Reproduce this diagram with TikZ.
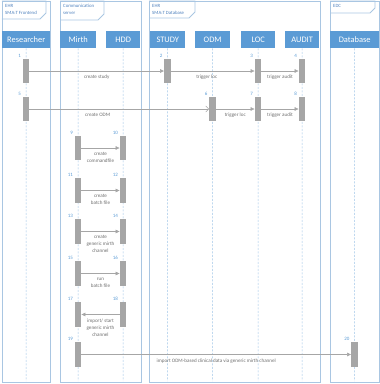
\documentclass[tikz,border=0pt]{standalone}
\usepackage{fontspec}
\setmainfont{Carlito}
\usetikzlibrary{arrows.meta}
\definecolor{hdr}{HTML}{5B9BD5}
\definecolor{frm}{HTML}{A9C6E2}
\definecolor{lif}{HTML}{9DC3E6}
\definecolor{barc}{HTML}{A6A6A6}
\definecolor{msgc}{HTML}{A6A6A6}
\definecolor{numc}{HTML}{5B9BD5}
\definecolor{txtc}{HTML}{6F6F6F}
\definecolor{tabc}{HTML}{4F81BD}
\tikzset{
  frame/.style={draw=frm, line width=0.8pt},
  tabtxt/.style={text=tabc, font=\fontsize{4.8}{6.8}\selectfont, align=left, anchor=north west, inner sep=0pt},
  hdrbox/.style={fill=hdr, text=white, font=\fontsize{8.4}{9}\selectfont, inner sep=0pt, minimum height=17pt, anchor=north west},
  life/.style={draw=lif, dashed, dash pattern=on 2pt off 1.5pt, line width=0.5pt},
  actbar/.style={fill=barc, draw=none, minimum width=6.5pt, minimum height=24.5pt, inner sep=0pt},
  num/.style={text=numc, font=\fontsize{5}{5}\selectfont, anchor=south east, inner sep=0pt, xshift=-1.5pt, yshift=1pt},
  msg/.style={draw=msgc, line width=0.5pt, -{Triangle[length=4pt,width=3.6pt]}},
  msgopen/.style={draw=msgc, line width=0.5pt, -{Straight Barb[length=3pt,width=6pt]}},
  msglab/.style={text=txtc, font=\fontsize{5.1}{7}\selectfont, align=center, below=3.8pt, inner sep=0pt}
}
\begin{document}
\begin{tikzpicture}[x=1pt,y={(0pt,-1pt)}]
\useasboundingbox (0,0) rectangle (380,384);
% frames
\draw[frame] (2,1) rectangle (50,382);
\draw[frame] (60,1) rectangle (141,382);
\draw[frame] (149,1) rectangle (320,382);
\draw[frame] (330,1) rectangle (379,382);
% tabs
\draw[frame] (2,1) -- (46,1) -- (46,13) -- (40,19) -- (2,19);
\draw[frame] (60,1) -- (104,1) -- (104,14) -- (98,20) -- (60,20);
\draw[frame] (149,1) -- (195,1) -- (195,12) -- (189,18) -- (149,18);
\draw[frame] (330,1) -- (375,1) -- (375,8) -- (370,13) -- (330,13);
\node[tabtxt] (t1) at (5,4) {EHR\\SMA:T Frontend};
\node[tabtxt] (t2) at (63,4) {Communication\\server};
\node[tabtxt] (t3) at (152,4) {EHR\\SMA:T Database};
\node[tabtxt] (t4) at (333,4) {EDC};
% headers
\node[hdrbox, minimum width=48pt] (res) at (2,31) {Researcher};
\node[hdrbox, minimum width=36pt] (mir) at (60,31) {Mirth};
\node[hdrbox, minimum width=34pt] (hdd) at (106,31) {HDD};
\node[hdrbox, minimum width=35pt] (stu) at (150,31) {STUDY};
\node[hdrbox, minimum width=35pt] (odm) at (195,31) {ODM};
\node[hdrbox, minimum width=34pt] (loc) at (241,31) {LOC};
\node[hdrbox, minimum width=34pt] (aud) at (285,31) {AUDIT};
\node[hdrbox, minimum width=49pt] (dbs) at (330,31) {Database};
% lifeline ends
\coordinate (eres) at (26,381);
\coordinate (emir) at (78,381);
\coordinate (ehdd) at (123,381);
\coordinate (estu) at (167.5,381);
\coordinate (eodm) at (212.5,381);
\coordinate (eloc) at (258,381);
\coordinate (eaud) at (302,381);
\coordinate (edbs) at (354.5,381);
\draw[life] (res.south) -- (eres);
\draw[life] (mir.south) -- (emir);
\draw[life] (hdd.south) -- (ehdd);
\draw[life] (stu.south) -- (estu);
\draw[life] (odm.south) -- (eodm);
\draw[life] (loc.south) -- (eloc);
\draw[life] (aud.south) -- (eaud);
\draw[life] (dbs.south) -- (edbs);
% activation bars
\node[actbar] (b1) at (26,71) {};
\node[actbar] (b2) at (167.5,71) {};
\node[actbar] (b3) at (258,71) {};
\node[actbar] (b4) at (302,71) {};
\node[actbar] (b5) at (26,109) {};
\node[actbar] (b6) at (212.5,109) {};
\node[actbar] (b7) at (258,109) {};
\node[actbar] (b8) at (302,109) {};
\node[actbar] (b9) at (78,148) {};
\node[actbar] (b10) at (123,148) {};
\node[actbar] (b11) at (78,190.5) {};
\node[actbar] (b12) at (123,190.5) {};
\node[actbar] (b13) at (78,231.5) {};
\node[actbar] (b14) at (123,231.5) {};
\node[actbar] (b15) at (78,273.5) {};
\node[actbar] (b16) at (123,273.5) {};
\node[actbar] (b17) at (78,314.5) {};
\node[actbar] (b18) at (123,314.5) {};
\node[actbar] (b19) at (78,354.5) {};
\node[actbar] (b20) at (354.5,354.5) {};
% numbers
\foreach \i in {1,...,20} {\node[num] (n\i) at (b\i.north west) {\i};}
% messages
\draw[msg] (b1.east) -- node[msglab] (m1) {create study} (b2.west);
\draw[msg] (b2.east) -- node[msglab, xshift=-6pt] (m2) {trigger loc} (b3.west);
\draw[msg] (b3.east) -- node[msglab] (m3) {trigger audit} (b4.west);
\draw[msgopen] (b5.east) -- node[msglab, pos=0.38] (m4) {create ODM} (b6.west);
\draw[msg] (b6.east) -- node[msglab] (m5) {trigger loc} (b7.west);
\draw[msg] (b7.east) -- node[msglab] (m6) {trigger audit} (b8.west);
\draw[msg] (b9.east) -- node[msglab] (m7) {create\\commandfile} (b10.west);
\draw[msg] (b11.east) -- node[msglab] (m8) {create\\batch file} (b12.west);
\draw[msg] (b13.east) -- node[msglab] (m9) {create\\generic mirth\\channel} (b14.west);
\draw[msg] (b15.east) -- node[msglab] (m10) {run\\batch file} (b16.west);
\draw[msg] (b18.west) -- node[msglab] (m11) {import/ start\\generic mirth\\channel} (b17.east);
\draw[msg] (b19.east) -- node[msglab] (m12) {import ODM-based clinical data via generic mirth channel} (b20.west);
\end{tikzpicture}
\end{document}
